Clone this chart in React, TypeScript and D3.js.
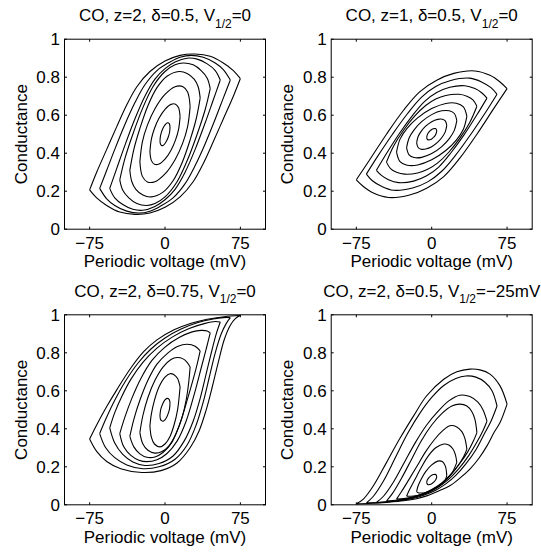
import React from 'react';
import * as d3 from 'd3';

type Pt = [number, number];

// ---------- text / ticks ----------
const xTicks = [-75, 0, 75];
const xTickLabels = ['\u221275', '0', '75'];
const yTicks = [0, 0.2, 0.4, 0.6, 0.8, 1];
const yTickLabels = ['0', '0.2', '0.4', '0.6', '0.8', '1'];
const xLabel = 'Periodic voltage (mV)';
const yLabel = 'Conductance';
const titleMain = ['CO, z=2, \u03b4=0.5, V', 'CO, z=1, \u03b4=0.5, V', 'CO, z=2, \u03b4=0.75, V', 'CO, z=2, \u03b4=0.5, V'];
const titleSub = ['1/2', '1/2', '1/2', '1/2'];
const titleTail = ['=0', '=0', '=0', '=\u221225mV'];
const amplitudes = [75, 65, 55, 45, 35, 25, 15, 5];

// ---------- panel A: z=2, d=0.5, V1/2=0 ----------
const aUpper: Pt[][] = [
  [[-75,0.207],[-68,0.30],[-58,0.42],[-48,0.54],[-38,0.655],[-28,0.75],[-15,0.83],[0,0.885],[15,0.915],[30,0.922],[45,0.91],[58,0.875],[68,0.835],[75,0.793]],
  [[-65,0.215],[-58,0.31],[-50,0.42],[-40,0.55],[-30,0.665],[-20,0.76],[-8,0.835],[5,0.88],[15,0.905],[26,0.915],[38,0.905],[50,0.875],[58,0.84],[65,0.785]],
  [[-55,0.215],[-48,0.32],[-40,0.44],[-30,0.58],[-20,0.70],[-10,0.79],[0,0.845],[10,0.88],[22,0.9],[32,0.895],[42,0.87],[50,0.835],[55,0.785]],
  [[-45,0.26],[-40,0.37],[-32,0.50],[-22,0.64],[-12,0.75],[0,0.83],[10,0.865],[18,0.875],[28,0.865],[36,0.835],[42,0.795],[45,0.74]],
  [[-35,0.31],[-31,0.42],[-25,0.53],[-17,0.65],[-8,0.745],[2,0.805],[14,0.83],[22,0.82],[29,0.79],[33,0.75],[35,0.69]],
  [[-25,0.355],[-22.5,0.46],[-17.5,0.548],[-10,0.634],[0,0.709],[10,0.75],[17.5,0.751],[22.5,0.722],[25,0.645]],
  [[-15,0.409],[-13.5,0.475],[-10.5,0.53],[-6,0.584],[0,0.631],[6,0.657],[10.5,0.658],[13.5,0.639],[15,0.591]],
  [[-5,0.466],[-4.5,0.491],[-3.5,0.511],[-2,0.531],[0,0.549],[2,0.559],[3.5,0.559],[4.5,0.552],[5,0.534]],
];
const aLower: Pt[][] = [
  [[-75,0.207],[-68,0.165],[-58,0.125],[-45,0.09],[-30,0.078],[-15,0.085],[0,0.115],[15,0.17],[28,0.25],[38,0.345],[48,0.46],[58,0.58],[68,0.70],[75,0.793]],
  [[-65,0.215],[-58,0.16],[-50,0.125],[-38,0.095],[-26,0.085],[-15,0.095],[-5,0.12],[8,0.165],[20,0.24],[30,0.335],[40,0.45],[50,0.58],[58,0.69],[65,0.785]],
  [[-55,0.215],[-50,0.165],[-42,0.13],[-32,0.105],[-22,0.1],[-10,0.12],[0,0.155],[10,0.21],[20,0.30],[30,0.42],[40,0.56],[48,0.68],[55,0.785]],
  [[-45,0.26],[-42,0.205],[-36,0.165],[-28,0.135],[-18,0.125],[-10,0.135],[0,0.17],[12,0.25],[22,0.36],[32,0.5],[40,0.63],[45,0.74]],
  [[-35,0.31],[-33,0.25],[-29,0.21],[-22,0.18],[-14,0.17],[-2,0.195],[8,0.255],[17,0.35],[25,0.47],[31,0.58],[35,0.69]],
  [[-25,0.355],[-22.5,0.278],[-17.5,0.249],[-10,0.25],[0,0.291],[10,0.366],[17.5,0.452],[22.5,0.54],[25,0.645]],
  [[-15,0.409],[-13.5,0.361],[-10.5,0.342],[-6,0.343],[0,0.369],[6,0.416],[10.5,0.47],[13.5,0.525],[15,0.591]],
  [[-5,0.466],[-4.5,0.448],[-3.5,0.441],[-2,0.441],[0,0.451],[2,0.469],[3.5,0.489],[4.5,0.509],[5,0.534]],
];

// ---------- panel B: z=1, d=0.5, V1/2=0 ----------
const bUpper: Pt[][] = [
  [[-75,0.26],[-62,0.363],[-45,0.50],[-28,0.626],[-12,0.723],[5,0.784],[22,0.82],[43,0.833],[58,0.81],[68,0.775],[75,0.74]],
  [[-65,0.29],[-54,0.382],[-39,0.5],[-24,0.609],[-10,0.695],[4,0.751],[19,0.783],[38,0.795],[50,0.774],[59,0.745],[65,0.71]],
  [[-55,0.31],[-45,0.398],[-32,0.505],[-19,0.599],[-7,0.673],[5,0.719],[18,0.747],[33,0.755],[43,0.74],[50,0.717],[55,0.69]],
  [[-45,0.353],[-38,0.437],[-28,0.521],[-17,0.595],[-6,0.651],[4,0.685],[14,0.704],[27,0.71],[35,0.70],[41,0.681],[45,0.647]],
  [[-35,0.406],[-31.5,0.474],[-24.5,0.531],[-14,0.586],[0,0.635],[14,0.662],[24.5,0.663],[31.5,0.644],[35,0.594]],
  [[-25,0.429],[-22.5,0.48],[-17.5,0.523],[-10,0.566],[0,0.603],[10,0.623],[17.5,0.623],[22.5,0.609],[25,0.571]],
  [[-15,0.454],[-13.5,0.488],[-10.5,0.515],[-6,0.542],[0,0.566],[6,0.578],[10.5,0.579],[13.5,0.57],[15,0.546]],
  [[-5,0.483],[-4.5,0.495],[-3.5,0.506],[-2,0.516],[0,0.525],[2,0.529],[3.5,0.53],[4.5,0.526],[5,0.517]],
];
const bLower: Pt[][] = [
  [[-75,0.26],[-68,0.225],[-58,0.19],[-43,0.167],[-22,0.18],[-5,0.216],[12,0.277],[28,0.374],[45,0.50],[62,0.637],[75,0.74]],
  [[-65,0.29],[-59,0.255],[-50,0.226],[-38,0.205],[-19,0.217],[-4,0.249],[10,0.305],[24,0.391],[39,0.5],[54,0.618],[65,0.71]],
  [[-55,0.31],[-50,0.283],[-43,0.26],[-33,0.245],[-18,0.253],[-5,0.281],[7,0.327],[19,0.401],[32,0.495],[45,0.602],[55,0.69]],
  [[-45,0.353],[-41,0.319],[-35,0.30],[-27,0.29],[-14,0.296],[-4,0.315],[6,0.349],[17,0.405],[28,0.479],[38,0.563],[45,0.647]],
  [[-35,0.406],[-31.5,0.356],[-24.5,0.337],[-14,0.338],[0,0.365],[14,0.414],[24.5,0.469],[31.5,0.526],[35,0.594]],
  [[-25,0.429],[-22.5,0.391],[-17.5,0.377],[-10,0.378],[0,0.398],[10,0.435],[17.5,0.477],[22.5,0.52],[25,0.571]],
  [[-15,0.454],[-13.5,0.43],[-10.5,0.421],[-6,0.422],[0,0.434],[6,0.458],[10.5,0.485],[13.5,0.512],[15,0.546]],
  [[-5,0.483],[-4.5,0.474],[-3.5,0.47],[-2,0.471],[0,0.475],[2,0.484],[3.5,0.494],[4.5,0.505],[5,0.517]],
];

// ---------- panel C: z=2, d=0.75, V1/2=0 ----------
const cUpper: Pt[][] = [
  [[-75,0.346],[-68,0.42],[-58,0.517],[-48,0.605],[-34,0.72],[-21,0.807],[-8,0.868],[9,0.921],[26,0.956],[42,0.977],[59,0.99],[75,0.996]],
  [[-65,0.375],[-59,0.45],[-50,0.55],[-40,0.645],[-27,0.745],[-14,0.82],[0,0.878],[16,0.925],[32,0.958],[48,0.978],[58,0.985],[65,0.985]],
  [[-55,0.405],[-50,0.485],[-43,0.57],[-34,0.66],[-22,0.75],[-8,0.825],[8,0.885],[24,0.928],[40,0.955],[50,0.965],[55,0.962]],
  [[-45,0.375],[-40,0.46],[-33,0.56],[-24,0.665],[-13,0.76],[0,0.83],[14,0.88],[27,0.91],[36,0.918],[42,0.915],[45,0.905]],
  [[-35,0.36],[-31,0.45],[-25,0.55],[-17,0.655],[-8,0.74],[3,0.8],[13,0.835],[22,0.845],[30,0.835],[35,0.81]],
  [[-25,0.38],[-22,0.47],[-17,0.565],[-10,0.655],[-2,0.725],[6,0.765],[12,0.775],[18,0.768],[22,0.75],[25,0.725]],
  [[-15,0.415],[-13.5,0.48],[-10.5,0.55],[-6,0.62],[0,0.672],[5,0.69],[9,0.685],[12.5,0.665],[15,0.62]],
  [[-5,0.47],[-4.5,0.495],[-3.5,0.515],[-2,0.535],[0,0.552],[2,0.56],[3.5,0.558],[4.5,0.55],[5,0.535]],
];
const cLower: Pt[][] = [
  [[-75,0.346],[-68,0.281],[-58,0.228],[-44,0.19],[-23,0.17],[-4,0.18],[12,0.22],[25,0.3],[34,0.39],[41,0.5],[47,0.62],[53,0.75],[59,0.87],[65,0.945],[70,0.98],[75,0.996]],
  [[-65,0.375],[-59,0.3],[-50,0.248],[-38,0.21],[-22,0.19],[-6,0.2],[10,0.24],[22,0.315],[31,0.42],[38,0.54],[44,0.67],[50,0.8],[56,0.9],[61,0.955],[65,0.985]],
  [[-55,0.405],[-50,0.325],[-42,0.265],[-32,0.225],[-20,0.207],[-6,0.217],[8,0.257],[19,0.335],[28,0.44],[35,0.56],[41,0.69],[47,0.82],[51,0.9],[55,0.962]],
  [[-45,0.375],[-41,0.305],[-34,0.26],[-26,0.235],[-18,0.227],[-8,0.237],[2,0.27],[12,0.335],[21,0.44],[29,0.58],[36,0.72],[41,0.82],[45,0.905]],
  [[-35,0.36],[-31,0.305],[-25,0.268],[-18,0.25],[-10,0.252],[-2,0.275],[7,0.33],[15,0.43],[22,0.55],[28,0.66],[32,0.74],[35,0.81]],
  [[-25,0.38],[-22,0.32],[-17,0.287],[-10,0.272],[-3,0.28],[4,0.31],[11,0.375],[17,0.46],[21,0.55],[23.5,0.64],[25,0.725]],
  [[-15,0.415],[-13.5,0.355],[-10.5,0.32],[-5,0.305],[0,0.32],[5,0.36],[9,0.42],[12.5,0.5],[15,0.62]],
  [[-5,0.47],[-4.5,0.45],[-3.5,0.443],[-2,0.44],[0,0.447],[2,0.465],[3.5,0.485],[4.5,0.505],[5,0.535]],
];

// ---------- panel D: z=2, d=0.5, V1/2=-25mV ----------
const dUpper: Pt[][] = [
  [[-75,0.005],[-68,0.03],[-58,0.10],[-45,0.222],[-32,0.346],[-18,0.468],[-5,0.574],[12,0.661],[25,0.70],[38,0.714],[48,0.71],[58,0.688],[68,0.626],[75,0.53]],
  [[-65,0.01],[-58,0.045],[-48,0.125],[-36,0.25],[-24,0.375],[-12,0.48],[0,0.565],[12,0.628],[24,0.665],[34,0.678],[44,0.672],[53,0.645],[60,0.6],[65,0.52]],
  [[-55,0.012],[-48,0.045],[-38,0.12],[-27,0.225],[-16,0.33],[-5,0.42],[6,0.49],[17,0.547],[28,0.577],[38,0.57],[46,0.54],[51,0.5],[55,0.44]],
  [[-45,0.02],[-39,0.06],[-30,0.14],[-20,0.24],[-10,0.34],[0,0.42],[10,0.48],[20,0.52],[28,0.53],[35,0.52],[40,0.49],[43,0.45],[45,0.38]],
  [[-35,0.03],[-30,0.07],[-23,0.13],[-15,0.2],[-6,0.28],[3,0.345],[11,0.39],[18,0.416],[25,0.41],[30,0.385],[33,0.35],[35,0.293]],
  [[-25,0.045],[-22,0.08],[-17,0.13],[-10,0.2],[-3,0.26],[4,0.3],[12,0.32],[17,0.315],[21,0.295],[23.5,0.265],[25,0.223]],
  [[-15,0.07],[-13.5,0.1],[-10.5,0.135],[-6,0.175],[0,0.21],[6,0.23],[10.5,0.228],[13.5,0.205],[15,0.155]],
  [[-5,0.118],[-4.5,0.129],[-3.5,0.138],[-2,0.147],[0,0.155],[2,0.159],[3.5,0.16],[4.5,0.156],[5,0.148]],
];
const dLower: Pt[][] = [
  [[-75,0.005],[-60,0.008],[-45,0.013],[-28,0.021],[-15,0.032],[-5,0.047],[8,0.075],[18,0.10],[28,0.14],[38,0.188],[47,0.245],[55,0.31],[62,0.38],[68,0.433],[75,0.53]],
  [[-65,0.01],[-50,0.013],[-35,0.02],[-20,0.032],[-8,0.05],[4,0.077],[14,0.11],[24,0.155],[34,0.215],[44,0.29],[52,0.37],[59,0.44],[65,0.52]],
  [[-55,0.012],[-42,0.017],[-28,0.027],[-15,0.042],[-4,0.063],[7,0.095],[17,0.135],[27,0.19],[37,0.26],[45,0.33],[51,0.39],[55,0.44]],
  [[-45,0.02],[-34,0.025],[-22,0.035],[-10,0.055],[0,0.08],[10,0.115],[20,0.165],[29,0.225],[36,0.28],[41,0.33],[45,0.38]],
  [[-35,0.03],[-26,0.034],[-16,0.045],[-6,0.063],[4,0.09],[13,0.125],[21,0.17],[28,0.22],[32,0.255],[35,0.293]],
  [[-25,0.045],[-20,0.045],[-13,0.05],[-5,0.062],[3,0.085],[10,0.11],[16,0.14],[21,0.175],[25,0.223]],
  [[-15,0.07],[-13.5,0.063],[-10.5,0.062],[-6,0.065],[0,0.075],[6,0.093],[10.5,0.112],[13.5,0.13],[15,0.155]],
  [[-5,0.118],[-4.5,0.11],[-3.5,0.106],[-2,0.107],[0,0.111],[2,0.119],[3.5,0.128],[4.5,0.137],[5,0.148]],
];

const uppers = [aUpper, bUpper, cUpper, dUpper];
const lowers = [aLower, bLower, cLower, dLower];

// ---------- layout ----------
const W = 201;
const H = 190;
const colX = [64.5, 331.2];
const rowY = [39.2, 314.8];
const FONT = '"Liberation Sans", Arial, Helvetica, sans-serif';
const FS = 17;

function Panel({ idx }: { idx: number }) {
  const ox = colX[idx % 2];
  const oy = rowY[Math.floor(idx / 2)];
  const x = d3.scaleLinear().domain([-100, 100]).range([ox, ox + W]);
  const y = d3.scaleLinear().domain([0, 1]).range([oy + H, oy]);
  const line = d3
    .line<Pt>()
    .x((d) => x(d[0]))
    .y((d) => y(d[1]))
    .curve(d3.curveCatmullRom.alpha(0.5));
  const tl = 2.5;
  return (
    <g>
      {amplitudes.map((a, i) => (
        <path
          key={a}
          d={(line(lowers[idx][i]) || '') + (line(uppers[idx][i]) || '')}
          fill="none"
          stroke="#000"
          strokeWidth={1.1}
          strokeLinejoin="miter"
        />
      ))}
      <rect x={ox} y={oy} width={W} height={H} fill="none" stroke="#000" strokeWidth={1} />
      {xTicks.map((t, i) => (
        <g key={'x' + t}>
          <line x1={x(t)} x2={x(t)} y1={oy + H} y2={oy + H - tl} stroke="#000" />
          <line x1={x(t)} x2={x(t)} y1={oy} y2={oy + tl} stroke="#000" />
          <text x={x(t)} y={oy + H + 19.5} textAnchor="middle" fontSize={FS} fontFamily={FONT}>
            {xTickLabels[i]}
          </text>
        </g>
      ))}
      {yTicks.map((t, i) => (
        <g key={'y' + t}>
          <line x1={ox} x2={ox + tl} y1={y(t)} y2={y(t)} stroke="#000" />
          <line x1={ox + W} x2={ox + W - tl} y1={y(t)} y2={y(t)} stroke="#000" />
          <text x={ox - 4.5} y={y(t) + 6} textAnchor="end" fontSize={FS} fontFamily={FONT}>
            {yTickLabels[i]}
          </text>
        </g>
      ))}
      <text x={ox + W / 2} y={oy + H + 38} textAnchor="middle" fontSize={FS} fontFamily={FONT}>
        {xLabel}
      </text>
      <text
        transform={`translate(${ox - 38},${oy + H / 2}) rotate(-90)`}
        textAnchor="middle"
        fontSize={FS}
        fontFamily={FONT}
      >
        {yLabel}
      </text>
      <text x={ox + W / 2} y={oy - 18.2} textAnchor="middle" fontSize={FS} fontFamily={FONT}>
        {titleMain[idx]}
        <tspan fontSize={12} dy={6.5}>
          {titleSub[idx]}
        </tspan>
        <tspan fontSize={FS} dy={-6.5}>
          {titleTail[idx]}
        </tspan>
      </text>
    </g>
  );
}

export default function App() {
  return (
    <svg
      width={541}
      height={552}
      style={{ position: 'absolute', left: 0, top: 0, background: '#fff' }}
    >
      <rect x={0} y={0} width={541} height={552} fill="#fff" />
      {[0, 1, 2, 3].map((i) => (
        <Panel key={i} idx={i} />
      ))}
    </svg>
  );
}
